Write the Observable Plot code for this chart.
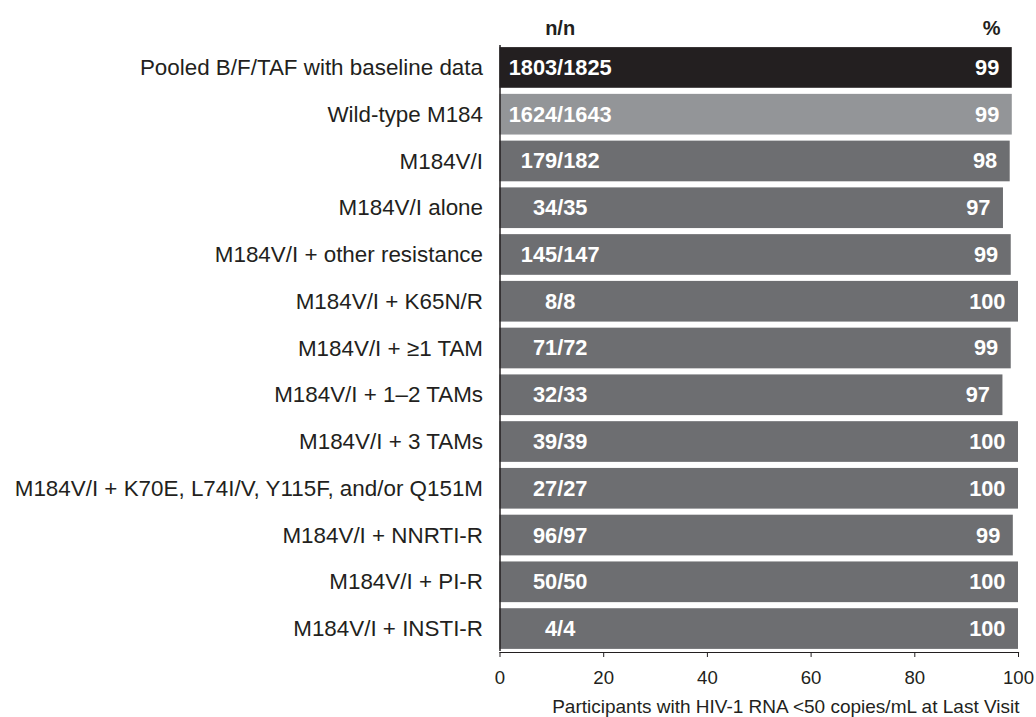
<!DOCTYPE html>
<html><head><meta charset="utf-8">
<script src="https://cdn.jsdelivr.net/npm/d3@7"></script>
<script src="https://cdn.jsdelivr.net/npm/@observablehq/plot@0.6"></script>
<style>
html,body{margin:0;padding:0;background:#fff;}
svg{font-family:"Liberation Sans",Arial,sans-serif;}
</style></head>
<body><div id="chart"></div>
<script>
const categories = [
  "Pooled B/F/TAF with baseline data",
  "Wild-type M184",
  "M184V/I",
  "M184V/I alone",
  "M184V/I + other resistance",
  "M184V/I + K65N/R",
  "M184V/I + \u22651 TAM",
  "M184V/I + 1\u20132 TAMs",
  "M184V/I + 3 TAMs",
  "M184V/I + K70E, L74I/V, Y115F, and/or Q151M",
  "M184V/I + NNRTI-R",
  "M184V/I + PI-R",
  "M184V/I + INSTI-R"
];
const nn = ["1803/1825","1624/1643","179/182","34/35","145/147","8/8","71/72","32/33","39/39","27/27","96/97","50/50","4/4"];
const pctLabels = ["99","99","98","97","99","100","99","97","100","100","99","100","100"];
const values = [98.8, 98.8, 98.4, 97.1, 98.6, 100, 98.6, 97.0, 100, 100, 99.0, 100, 100];
const groups = ["pooled","wild","m184","m184","m184","m184","m184","m184","m184","m184","m184","m184","m184"];
const xTicks = [0, 20, 40, 60, 80, 100];
const xTitle = "Participants with HIV-1 RNA <50 copies/mL at Last Visit";
const headers = [{x: 11.6, t: "n/n"}, {x: 94.8, t: "%"}];
const nnLabelX = 11.6;

const data = categories.map((c, i) => ({cat: c, nn: nn[i], pct: pctLabels[i], v: values[i], g: groups[i]}));
const ink = "#231f20";

const chart = Plot.plot({
  width: 1036,
  height: 717,
  marginLeft: 499.5,
  marginRight: 18,
  marginTop: 45,
  marginBottom: 66,
  style: {fontFamily: "'Liberation Sans', Arial, sans-serif", color: ink, overflow: "visible"},
  x: {domain: [0, 100]},
  y: {domain: categories, paddingInner: 0.13, paddingOuter: 0.045, round: false},
  color: {domain: ["pooled","wild","m184"], range: ["#231f20","#939598","#6d6e71"]},
  marks: [
    Plot.barX(data, {x: "v", y: "cat", fill: "g"}),
    Plot.axisY({tickSize: 0, tickPadding: 17, fontSize: 22.4, label: null, fill: ink}),
    Plot.axisX({ticks: xTicks, tickSize: 5, tickPadding: 13, fontSize: 18.6, label: null, fill: ink, stroke: ink, dy: 1}),
    Plot.ruleX([0], {stroke: ink, strokeWidth: 1.5}),
    Plot.frame({anchor: "bottom", stroke: ink, strokeWidth: 1.2, dy: 1}),
    Plot.text(data, {x: nnLabelX, y: "cat", text: "nn", fill: "white", fontWeight: "bold", fontSize: 21.8}),
    Plot.text(data, {x: "v", y: "cat", text: "pct", fill: "white", fontWeight: "bold", fontSize: 21.8, textAnchor: "end", dx: -13}),
    Plot.text(headers, {x: "x", text: "t", frameAnchor: "top", dy: -25, fontWeight: "bold", fontSize: 20, fill: ink}),
    Plot.text([xTitle], {frameAnchor: "bottom-right", textAnchor: "end", dy: 61, dx: 1, fontSize: 19, fill: ink})
  ]
});
document.getElementById("chart").appendChild(chart);
</script></body></html>
